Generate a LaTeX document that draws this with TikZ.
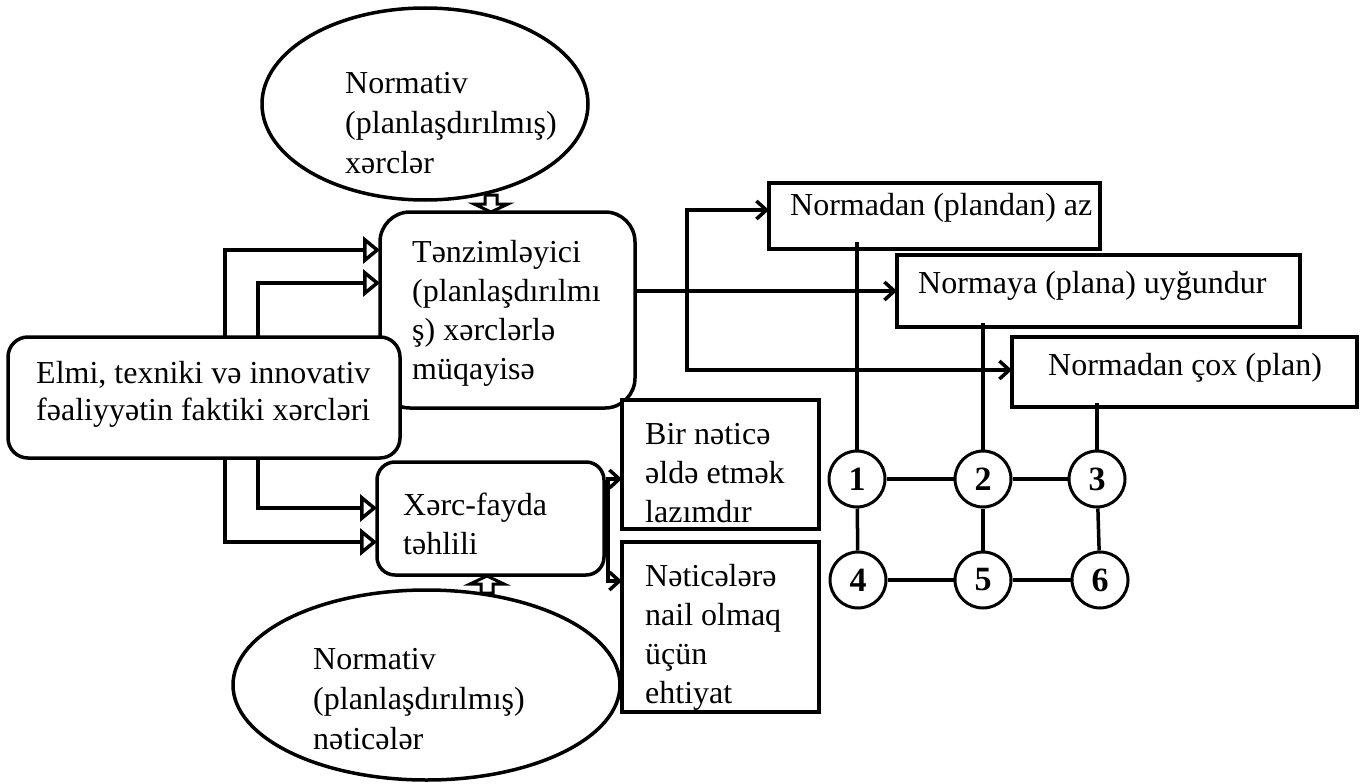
\documentclass[tikz,border=0pt]{standalone}
\usepackage{fontspec}
\setmainfont{Liberation Serif}
\usetikzlibrary{shapes.geometric,arrows.meta,calc}
\tikzset{
  rbox/.style={draw, rectangle, line width=3.5pt, fill=white, inner sep=0pt, outer sep=0pt},
  sbox/.style={draw, rectangle, line width=3.5pt, fill=white, inner sep=0pt, outer sep=0pt},
  oval/.style={draw, ellipse, line width=3.5pt, fill=white, inner sep=0pt, outer sep=0pt},
  num/.style={draw, circle, line width=3pt, fill=white, minimum size=56pt, inner sep=0pt,
    font=\fontsize{34}{34}\selectfont\bfseries},
  txt/.style={anchor=north west, inner sep=0pt, align=left, font=\fontsize{32}{39}\selectfont},
  conn/.style={line width=3.5pt},
  barb/.style={line width=3.5pt, -{Straight Barb[length=10pt,width=18pt]}},
  openarr/.style={line width=3.5pt, -{Triangle[open,length=17pt,width=27pt]}},
  hollow/.style={draw, fill=white, line width=3pt, line join=miter}
}
\begin{document}
\begin{tikzpicture}[x=1pt,y=-1pt]
\fill[white] (0,0) rectangle (1365,784);
\useasboundingbox (0,0) rectangle (1365,784);

% ellipses
\node[oval, minimum width=326pt, minimum height=192pt] (e1) at (425,104) {};
\node[oval, minimum width=387pt, minimum height=190pt] (e2) at (426.5,685) {};

% main boxes
\node[rbox, rounded corners=30pt, minimum width=255pt, minimum height=196pt] (tz) at (507.5,310) {};
\node[rbox, rounded corners=20pt, minimum width=392pt, minimum height=121pt] (el) at (204,397.5) {};
\node[rbox, rounded corners=18pt, minimum width=227pt, minimum height=113pt] (xf) at (490.5,518.5) {};
\node[sbox, minimum width=331pt, minimum height=66pt] (nz) at (934.5,216) {};
\node[sbox, minimum width=403pt, minimum height=72pt] (ny) at (1098.5,291) {};
\node[sbox, minimum width=345pt, minimum height=70pt] (nc) at (1184.5,372) {};
\node[sbox, minimum width=197pt, minimum height=129pt] (bn) at (720.5,464.5) {};
\node[sbox, minimum width=197pt, minimum height=170pt] (nt) at (720.5,627) {};

% texts
\node[txt, font=\fontsize{32}{40}\selectfont] (t1) at (345,72) {Normativ\\(planlaşdırılmış)\\xərclər};
\node[txt, font=\fontsize{32}{40}\selectfont] (t2) at (313,648) {Normativ\\(planlaşdırılmış)\\nəticələr};
\node[txt] (t3) at (412,240) {Tənzimləyici\\(planlaşdırılmı\\ş) xərclərlə\\müqayisə};
\node[txt, font=\fontsize{32}{37}\selectfont] (t4) at (36,361) {Elmi, texniki və innovativ\\fəaliyyətin faktiki xərcləri};
\node[txt] (t5) at (403,493) {Xərc-fayda\\təhlili};
\node[txt] (t6) at (790,193) {Normadan (plandan) az};
\node[txt] (t7) at (918,271) {Normaya (plana) uyğundur};
\node[txt] (t8) at (1048,353) {Normadan çox (plan)};
\node[txt] (t9) at (645,423) {Bir nəticə\\əldə etmək\\lazımdır};
\node[txt] (t10) at (645,564) {Nəticələrə\\nail olmaq\\üçün\\ehtiyat};

% hollow block arrows
\draw[hollow] ($(tz.north)+(-16.5,0)$) -- ++(-17,-8) -- ++(11,0) -- ++(0,-9) -- ++(12,0) -- ++(0,9) -- ++(11,0) -- cycle;
\draw[hollow] ($(xf.south)+(-3.5,1)$) -- ++(-17,8) -- ++(11,0) -- ++(0,9) -- ++(12,0) -- ++(0,-9) -- ++(11,0) -- cycle;

% elbow open arrows from Elmi box
\draw[openarr] ($(el.north west)+(217,0)$) |- ($(tz.north west)+(0,38)$);
\draw[openarr] ($(el.north west)+(250,0)$) |- ($(tz.north west)+(0,71)$);
\draw[openarr] ($(el.south west)+(250,0)$) |- ($(xf.north west)+(0,46)$);
\draw[openarr] ($(el.south west)+(217,0)$) |- ($(xf.north west)+(0,80)$);

% comparison outputs
\draw[barb] (tz.east |- ny.west) -- (ny.west);
\coordinate (bus) at (687,291);
\draw[barb] (bus) |- ($(nz.west)+(0,-6)$);
\draw[barb] (bus) |- ($(nc.west)+(0,-2)$);

% cost-benefit outputs
\draw[conn] (xf.east) -- ++(4,0) coordinate (fork);
\draw[barb] (fork) |- ($(bn.south west)+(0,-50)$);
\draw[barb] (fork) |- ($(nt.north west)+(0,39)$);

% circles
\node[num] (c1) at (857,479) {1};
\node[num] (c2) at (983,479) {2};
\node[num] (c3) at (1097,479) {3};
\node[num] (c4) at (858,580) {4};
\node[num] (c5) at (983,580) {5};
\node[num] (c6) at (1100,580) {6};

\draw[conn] (c1) -- (c2);
\draw[conn] (c2) -- (c3);
\draw[conn] (c4) -- (c5);
\draw[conn] (c5) -- (c6);
\draw[conn] (c1) -- (c4);
\draw[conn] (c2) -- (c5);
\draw[conn] (c3) -- (c6);
\draw[conn] (c1.north) -- ($(c1 |- nz.south)+(0,-7)$);
\draw[conn] (c2.north) -- ($(c2 |- ny.south)+(0,-4)$);
\draw[conn] (c3.north) -- ($(c3 |- nc.south)+(0,-4)$);
\end{tikzpicture}
\end{document}
